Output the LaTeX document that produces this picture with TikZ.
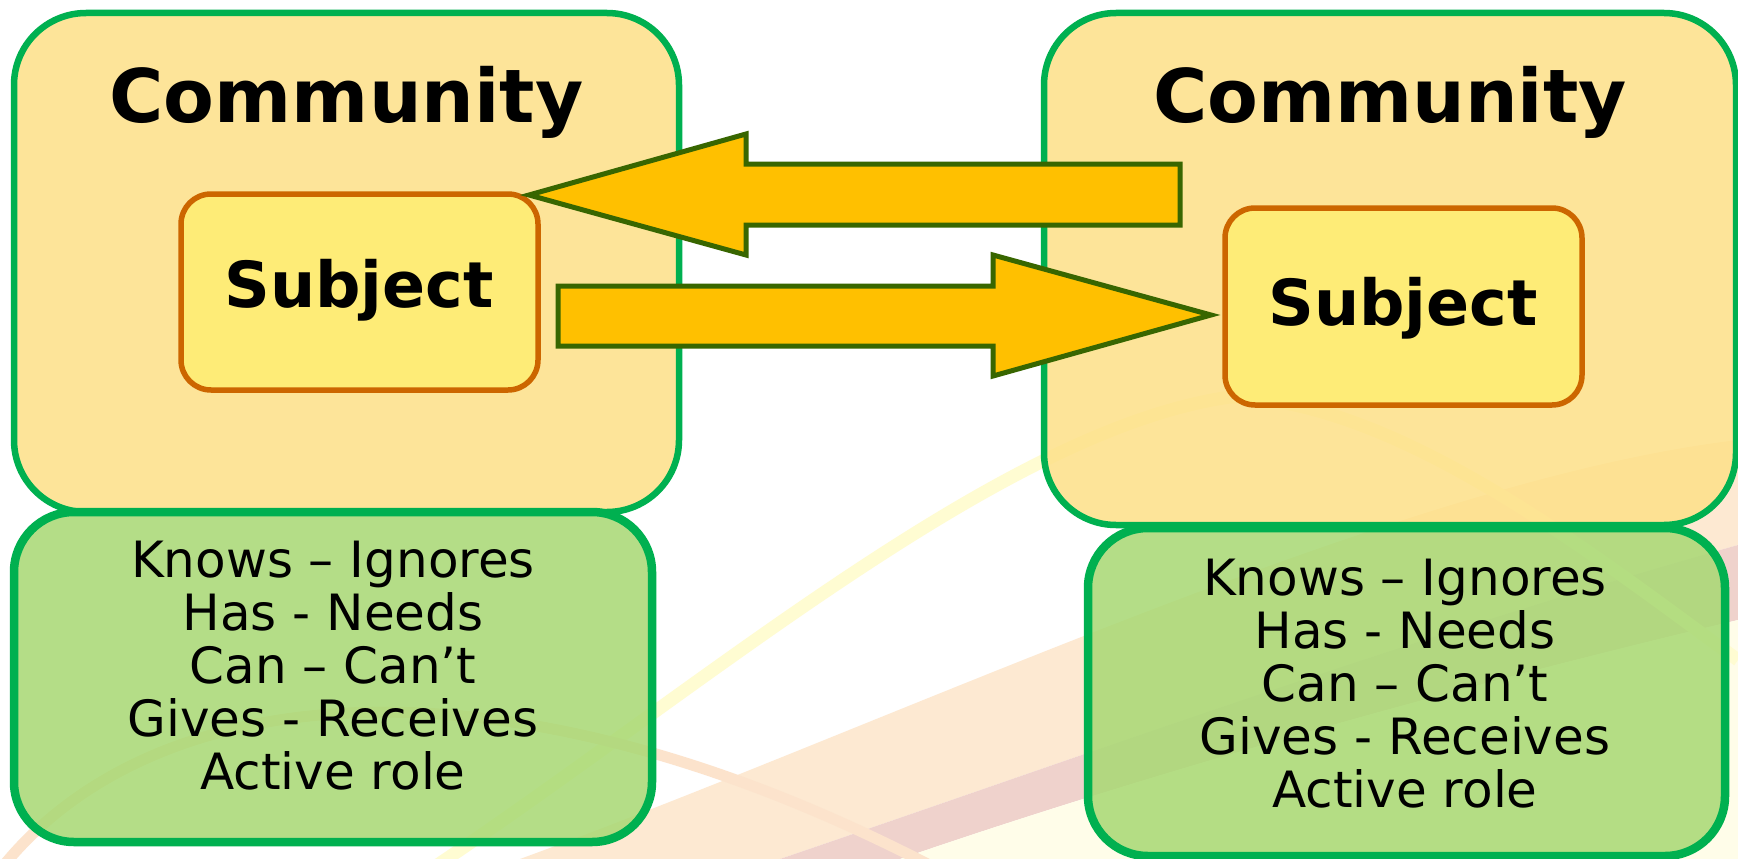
\documentclass[tikz,border=0pt]{standalone}
\usepackage{fontspec}
\newfontfamily\dv{DejaVu Sans}
\definecolor{bordergreen}{HTML}{00B050}
\definecolor{commfill}{RGB}{253,224,136}
\definecolor{greenfill}{RGB}{168,216,115}
\definecolor{subjfill}{HTML}{FFED75}
\definecolor{subjborder}{HTML}{CC6600}
\definecolor{arrowfill}{HTML}{FFC000}
\definecolor{arrowborder}{HTML}{386600}
\definecolor{bgyellow}{HTML}{FFFCD2}
\definecolor{bgpeach}{HTML}{FDE9D2}
\definecolor{bgpink}{HTML}{EFD2CC}
\definecolor{bgorange}{HTML}{FCE3CC}
\tikzset{
  commbox/.style={draw=bordergreen, line width=6.5pt, fill=commfill, fill opacity=0.85, rounded corners=72pt, inner sep=0pt},
  greenbox/.style={draw=bordergreen, line width=8.5pt, fill=greenfill, fill opacity=0.85, rounded corners=60pt, inner sep=0pt},
  subjbox/.style={draw=subjborder, line width=5.5pt, fill=subjfill, fill opacity=0.92, rounded corners=30pt, inner sep=0pt},
  blockarrow/.style={draw=arrowborder, line width=5pt, fill=arrowfill, line join=miter},
  commtext/.style={font=\dv\bfseries\fontsize{74}{80}\selectfont, anchor=base, inner sep=0pt},
  subjtext/.style={font=\dv\bfseries\fontsize{63.5}{68}\selectfont, anchor=base, inner sep=0pt},
  listtext/.style={font=\dv\fontsize{50}{53}\selectfont, align=center, anchor=base, inner sep=0pt},
}
\begin{document}
\begin{tikzpicture}[x=1pt,y=-1pt]
\useasboundingbox (0,0) rectangle (1738,859);
\fill[white] (0,0) rectangle (1738,859);
% background decoration
\fill[bgpeach] (520,859) .. controls (900,720) and (1400,480) .. (1738,440) -- (1738,545) .. controls (1400,640) and (1100,750) .. (780,859) -- cycle;
\fill[bgpink] (780,859) .. controls (1100,750) and (1400,640) .. (1738,545) -- (1738,620) .. controls (1400,700) and (1100,790) .. (900,859) -- cycle;
\fill[bgyellow!50] (900,859) .. controls (1100,790) and (1400,700) .. (1738,620) -- (1738,859) -- cycle;
\draw[bgyellow, line width=13pt] (430,870) .. controls (700,690) and (1000,430) .. (1230,397) .. controls (1400,400) and (1600,560) .. (1738,660);
\draw[bgorange, line width=11pt] (0,870) .. controls (150,680) and (500,640) .. (939,870);
% left side
\node[commbox, minimum width=665pt, minimum height=499pt] (commL) at (346.5,262.5) {};
\node[greenbox, minimum width=638pt, minimum height=330pt] (greenL) at (333,677) {};
\node[subjbox, minimum width=357pt, minimum height=196pt] (subjL) at (359.5,292) {};
% right side
\node[commbox, minimum width=692pt, minimum height=512pt] (commR) at (1390,269) {};
\node[greenbox, minimum width=637pt, minimum height=328pt] (greenR) at (1406.5,692) {};
\node[subjbox, minimum width=357pt, minimum height=197pt] (subjR) at (1403.5,306.5) {};
% block arrows
\coordinate (tipL) at (529,195);
\coordinate (tipR) at (1211,315);
\draw[blockarrow] (tipL) -- (746,134) -- (746,164) -- (1180,164) -- (1180,225) -- (746,225) -- (746,255) -- cycle;
\draw[blockarrow] (tipR) -- (993,376) -- (993,346) -- (558,346) -- (558,286) -- (993,286) -- (993,255) -- cycle;
% texts
\node[commtext] (commLt) at (346.5,122) {Community};
\node[commtext] (commRt) at (1390,122) {Community};
\node[subjtext] (subjLt) at (359,307) {Subject};
\node[subjtext] (subjRt) at (1403,325) {Subject};
\node[listtext] (listL) at (333,789) {Knows – Ignores\\Has - Needs\\Can – Can’t\\Gives - Receives\\Active role};
\node[listtext] (listR) at (1405,807) {Knows – Ignores\\Has - Needs\\Can – Can’t\\Gives - Receives\\Active role};
\end{tikzpicture}
\end{document}
